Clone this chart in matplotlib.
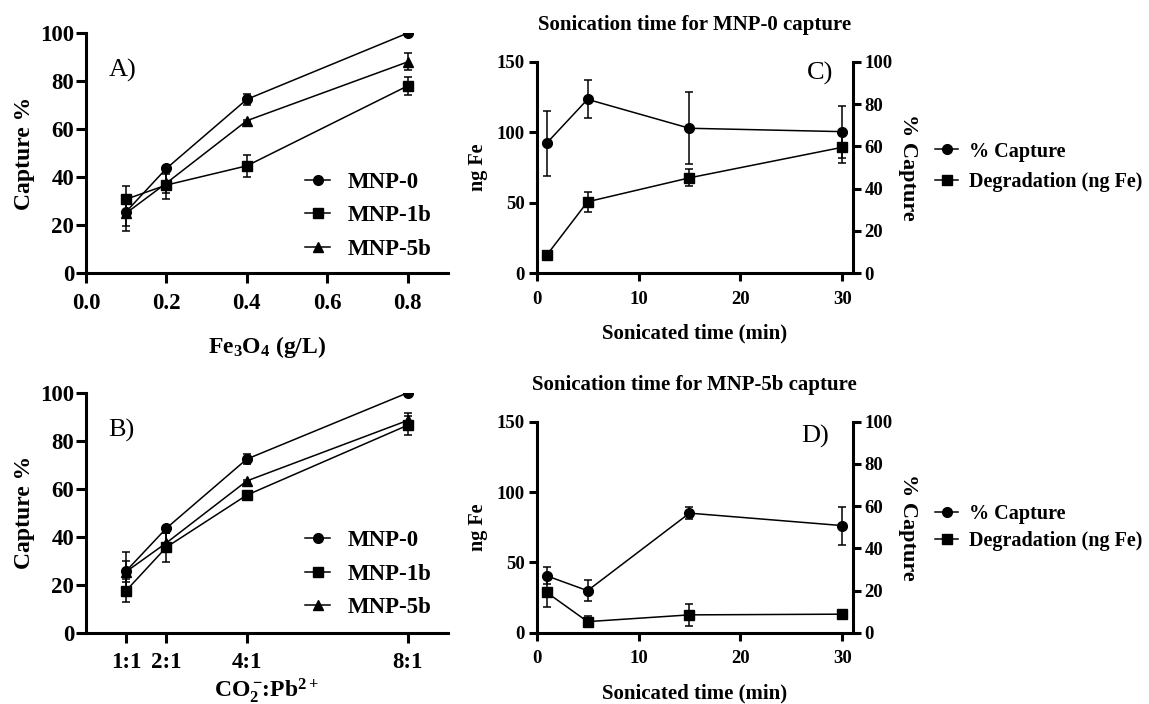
import matplotlib
matplotlib.use('Agg')
import matplotlib.pyplot as plt
from matplotlib.lines import Line2D

# panel A: capture vs Fe3O4 concentration
a_conc = [0.1, 0.2, 0.4, 0.8]
a_mnp0 = [25.6, 43.6, 72.4, 100.0]
a_mnp0_err = [6.0, 1.0, 2.2, 0.0]
a_mnp1b = [30.8, 36.7, 44.7, 78.0]
a_mnp1b_err = [5.4, 6.0, 4.7, 3.7]
a_mnp5b = [25.0, 37.5, 63.5, 88.0]
a_mnp5b_err = [7.5, 4.0, 0.5, 3.5]

# panel B: capture vs CO2-:Pb2+ ratio
b_ratio = [1, 2, 4, 8]
b_ratio_labels = ['1:1', '2:1', '4:1', '8:1']
b_mnp0 = [25.8, 43.6, 72.4, 100.0]
b_mnp0_err = [7.8, 1.0, 2.2, 0.0]
b_mnp1b = [17.6, 35.7, 57.4, 86.5]
b_mnp1b_err = [4.8, 6.0, 1.0, 4.0]
b_mnp5b = [25.5, 37.5, 63.3, 88.5]
b_mnp5b_err = [4.5, 4.0, 0.5, 3.0]

# panels C and D: sonication time
son_time = [1, 5, 15, 30]
c_capture = [61.6, 82.3, 68.6, 67.0]
c_capture_err = [15.4, 9.0, 17.0, 12.3]
c_degr = [12.8, 50.7, 67.7, 89.4]
c_degr_err = [3.0, 7.0, 6.0, 11.0]
d_capture = [27.0, 20.0, 56.7, 50.8]
d_capture_err = [4.0, 5.0, 2.7, 9.0]
d_degr = [28.7, 8.0, 12.8, 13.3]
d_degr_err = [10.0, 4.0, 8.0, 1.0]

plt.rcParams['font.family'] = ['Liberation Serif', 'DejaVu Serif']
plt.rcParams['font.weight'] = 'bold'
plt.rcParams['mathtext.fontset'] = 'custom'
plt.rcParams['mathtext.rm'] = 'Liberation Serif:bold'
plt.rcParams['mathtext.it'] = 'Liberation Serif:bold'
plt.rcParams['mathtext.bf'] = 'Liberation Serif:bold'

fig = plt.figure(figsize=(11.49, 7.04), dpi=100)

lw = 1.1
msize = {'o': 7, 's': 6.5, '^': 7.5}
ekw = dict(ecolor='black', capsize=3.2, capthick=lw, elinewidth=lw)


def style(ax, ticksize, ticklen, xpad, ypad):
    for s in ['top', 'right']:
        ax.spines[s].set_visible(False)
    for s in ['left', 'bottom']:
        ax.spines[s].set_linewidth(2.2)
    ax.tick_params(direction='out', length=ticklen, width=2.2, labelsize=ticksize)
    ax.tick_params(axis='x', pad=xpad)
    ax.tick_params(axis='y', pad=ypad)
    for t in ax.get_xticklabels() + ax.get_yticklabels():
        t.set_fontweight('bold')


def series_plot(ax, x, y, e, marker, label=None):
    ax.errorbar(x, y, yerr=e, fmt='-', marker=marker, color='black', lw=lw,
                ms=msize[marker], label=label, **ekw)


def handles(markers):
    return [Line2D([], [], color='black', lw=lw, marker=m, ms=msize[m]) for m in markers]


# ---------- A ----------
axA = fig.add_axes([0.0748, 0.612, 0.315, 0.341])
series_plot(axA, a_conc, a_mnp0, a_mnp0_err, 'o', 'MNP-0')
series_plot(axA, a_conc, a_mnp1b, a_mnp1b_err, 's', 'MNP-1b')
series_plot(axA, a_conc, a_mnp5b, a_mnp5b_err, '^', 'MNP-5b')
axA.set_xlim(0, 0.9)
axA.set_ylim(0, 100)
axA.set_xticks([0.0, 0.2, 0.4, 0.6, 0.8])
axA.set_xticklabels(['0.0', '0.2', '0.4', '0.6', '0.8'])
axA.set_yticks([0, 20, 40, 60, 80, 100])
style(axA, 16.5, 7.5, 6.5, 1)
axA.set_ylabel('Capture %', fontsize=17, fontweight='bold', labelpad=3.5)
axA.set_xlabel(r'Fe$_3$O$_4$ (g/L)', fontsize=17, fontweight='bold', labelpad=15)
axA.text(0.062, 0.82, 'A)', transform=axA.transAxes, fontsize=19, fontweight='normal')

# ---------- B ----------
axB = fig.add_axes([0.0748, 0.101, 0.315, 0.341])
series_plot(axB, b_ratio, b_mnp0, b_mnp0_err, 'o', 'MNP-0')
series_plot(axB, b_ratio, b_mnp1b, b_mnp1b_err, 's', 'MNP-1b')
series_plot(axB, b_ratio, b_mnp5b, b_mnp5b_err, '^', 'MNP-5b')
axB.set_xlim(0, 9)
axB.set_ylim(0, 100)
axB.set_xticks(b_ratio)
axB.set_xticklabels(b_ratio_labels)
axB.set_yticks([0, 20, 40, 60, 80, 100])
style(axB, 16.5, 7.5, 6.5, 1)
axB.set_ylabel('Capture %', fontsize=17, fontweight='bold', labelpad=3.5)
axB.set_xlabel(r'CO$_2^-\!$:Pb$^{2+}$', fontsize=17, fontweight='bold', labelpad=2)
axB.text(0.062, 0.817, 'B)', transform=axB.transAxes, fontsize=19, fontweight='normal')

for ax, top in [(axA, 0.756), (axB, 0.247)]:
    h, l = ax.get_legend_handles_labels()
    ax.legend(handles(['o', 's', '^']), l, loc='upper left', bbox_to_anchor=(0.2654, top),
              bbox_transform=fig.transFigure, frameon=False, borderpad=0, borderaxespad=0,
              handlelength=1.1, handletextpad=0.75, labelspacing=0.55,
              prop=dict(family='Liberation Serif', weight='bold', size=16.5))


# ---------- C / D ----------
def sonic_panel(rect, cap, cap_err, deg, deg_err, title, tag, tag_xy, leg_top, leg_sp):
    ax = fig.add_axes(rect)
    ax2 = ax.twinx()
    ax.errorbar(son_time, deg, yerr=deg_err, fmt='-', marker='s', color='black', lw=lw,
                ms=msize['s'], **ekw)
    ax2.errorbar(son_time, cap, yerr=cap_err, fmt='-', marker='o', color='black', lw=lw,
                 ms=msize['o'], **ekw)
    ax.set_xlim(0, 31)
    ax.set_ylim(0, 150)
    ax2.set_ylim(0, 100)
    ax.set_xticks([0, 10, 20, 30])
    ax.set_yticks([0, 50, 100, 150])
    ax2.set_yticks([0, 20, 40, 60, 80, 100])
    style(ax, 13.5, 6, 6.5, 2.5)
    ax2.spines['top'].set_visible(False)
    ax2.spines['left'].set_visible(False)
    ax2.spines['bottom'].set_visible(False)
    ax2.spines['right'].set_linewidth(2.2)
    ax2.tick_params(direction='out', length=6, width=2.2, labelsize=13.5, pad=2.5)
    for t in ax2.get_yticklabels():
        t.set_fontweight('bold')
    ax.set_ylabel('ng Fe', fontsize=14.5, fontweight='bold', labelpad=6.5)
    ax2.set_ylabel('% Capture', fontsize=16, fontweight='bold', rotation=270, labelpad=18.5)
    ax.set_xlabel('Sonicated time (min)', fontsize=15, fontweight='bold', labelpad=11.5)
    ax.set_title(title, fontsize=15, fontweight='bold', pad=23)
    ax.text(tag_xy[0], tag_xy[1], tag, transform=ax.transAxes, fontsize=19, fontweight='normal')
    ax.legend(handles(['o', 's']), ['% Capture', 'Degradation (ng Fe)'], loc='upper left',
              bbox_to_anchor=(0.814, leg_top), bbox_transform=fig.transFigure,
              frameon=False, borderpad=0, borderaxespad=0, handlelength=1.15,
              handletextpad=0.5, labelspacing=leg_sp,
              prop=dict(family='Liberation Serif', weight='bold', size=14.5))
    return ax


sonic_panel([0.467, 0.612, 0.275, 0.300], c_capture, c_capture_err, c_degr, c_degr_err,
            'Sonication time for MNP-0 capture', 'C)', (0.857, 0.915), 0.799, 0.5)
sonic_panel([0.467, 0.101, 0.275, 0.300], d_capture, d_capture_err, d_degr, d_degr_err,
            'Sonication time for MNP-5b capture', 'D)', (0.838, 0.90), 0.2835, 0.35)

fig.savefig('out.png', dpi=100)
